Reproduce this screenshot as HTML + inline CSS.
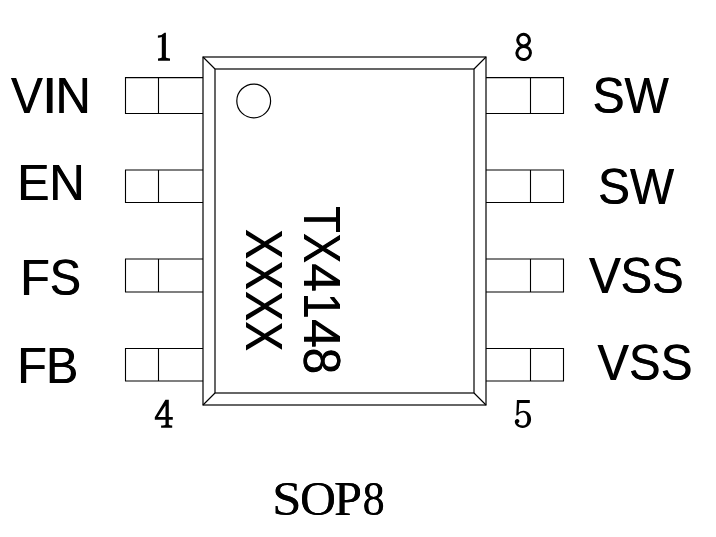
<!DOCTYPE html>
<html><head><meta charset="utf-8"><style>
html,body{margin:0;padding:0;background:#fff;width:716px;height:537px;overflow:hidden}
svg{position:absolute;left:0;top:0;will-change:transform}
</style></head><body>
<svg width="716" height="537" viewBox="0 0 716 537">
<g fill="none" stroke="#000" stroke-width="1.1"><path d="M203 77.6H125.5V113.5H203M158.5 77.6V113.5"/><path d="M203 170H125.5V202.5H203M158.5 170V202.5"/><path d="M203 259H125.5V292H203M158.5 259V292"/><path d="M203 348.5H125.5V381H203M158.5 348.5V381"/><path d="M486 77.6H563.5V113.5H486M530.5 77.6V113.5"/><path d="M486 170H563.5V202.5H486M530.5 170V202.5"/><path d="M486 259H563.5V292H486M530.5 259V292"/><path d="M486 348.5H563.5V381H486M530.5 348.5V381"/></g>
<g fill="none" stroke="#000" stroke-width="1.2">
<rect x="203" y="57" width="283" height="348"/>
<rect x="215" y="69" width="259" height="324"/>
<path d="M203 57L215 69M486 57L474 69M203 405L215 393M486 405L474 393"/>
</g>
<circle cx="253.7" cy="100.95" r="16.9" fill="none" stroke="#000" stroke-width="1.2"/>
<g fill="#000"><path d="M157.9 35.5Q162.2 35.5 164.5 32.8L165.9 32.8L165.9 57.3Q166.2 58.4 170 58.4L170 60.7L158 60.7L158 58.4Q161.5 58.4 161.8 57.3L161.8 37.1Q160.3 37.8 157.9 37.8Z"/>
<path fill-rule="evenodd" d="M165.4 399.8L168.8 399.8L168.8 417L172.8 417L172.8 419.7L168.8 419.7L168.8 424.4Q169 425.3 172.2 425.4L172.2 427.7L161.1 427.7L161.1 425.4Q165.2 425.3 165.5 424.4L165.5 419.7L154.8 419.7L154.8 417.2ZM165.5 405.4L165.5 417L157.9 417Z"/>
<path d="M516.9 400L529.8 400L529.8 402.9L519.3 402.9L518.6 412.6Q520.6 410.7 523.4 410.7C528 410.7 531.1 414.3 531.1 419.2C531.1 424.4 527.4 427.9 522.6 427.9C518.2 427.9 514.8 425.1 514.8 421.6C514.8 420 516 418.9 517.2 418.9C518.5 418.9 519.4 419.9 519.4 421C519.4 422.3 518.4 423 517.6 423.1C518.5 424.8 520.2 425.6 522.4 425.6C525.8 425.6 527.3 423.2 527.3 419.2C527.3 415 525.6 412.6 522.9 412.6C520.7 412.6 519.1 413.6 518.1 415.2L516.3 415.4Z"/>
<g fill="none" stroke="#000" stroke-width="3"><ellipse cx="523.6" cy="40.1" rx="5.85" ry="5.75" transform="rotate(25 523.6 40.1)"/><ellipse cx="523.7" cy="53.0" rx="6.85" ry="6.45" transform="rotate(-20 523.7 53.0)"/></g></g>
<g fill="#000">
<text transform="translate(10.76,113.00) scale(0.9551,1)" font-family="Liberation Sans" font-size="50">V</text><text transform="translate(11.36,113.00) scale(0.9551,1)" font-family="Liberation Sans" font-size="50">V</text><text transform="translate(42.10,113.00) scale(1.0595,1)" font-family="Liberation Sans" font-size="50">I</text><text transform="translate(42.70,113.00) scale(1.0595,1)" font-family="Liberation Sans" font-size="50">I</text><text transform="translate(55.26,113.00) scale(0.9794,1)" font-family="Liberation Sans" font-size="50">N</text><text transform="translate(55.86,113.00) scale(0.9794,1)" font-family="Liberation Sans" font-size="50">N</text>
<text transform="translate(17.11,200.00) scale(0.9618,1)" font-family="Liberation Sans" font-size="50">E</text><text transform="translate(17.71,200.00) scale(0.9618,1)" font-family="Liberation Sans" font-size="50">E</text><text transform="translate(48.89,200.00) scale(0.9848,1)" font-family="Liberation Sans" font-size="50">N</text><text transform="translate(49.49,200.00) scale(0.9848,1)" font-family="Liberation Sans" font-size="50">N</text>
<text transform="translate(20.03,295.00) scale(0.9625,1)" font-family="Liberation Sans" font-size="50">F</text><text transform="translate(20.63,295.00) scale(0.9625,1)" font-family="Liberation Sans" font-size="50">F</text><text transform="translate(49.60,295.00) scale(0.9322,1)" font-family="Liberation Sans" font-size="50">S</text><text transform="translate(50.20,295.00) scale(0.9322,1)" font-family="Liberation Sans" font-size="50">S</text>
<text transform="translate(17.11,383.00) scale(0.9621,1)" font-family="Liberation Sans" font-size="50">F</text><text transform="translate(17.71,383.00) scale(0.9621,1)" font-family="Liberation Sans" font-size="50">F</text><text transform="translate(45.70,383.00) scale(0.9690,1)" font-family="Liberation Sans" font-size="50">B</text><text transform="translate(46.30,383.00) scale(0.9690,1)" font-family="Liberation Sans" font-size="50">B</text>
<text transform="translate(592.34,113.00) scale(0.9583,1)" font-family="Liberation Sans" font-size="50">S</text><text transform="translate(592.94,113.00) scale(0.9583,1)" font-family="Liberation Sans" font-size="50">S</text><text transform="translate(624.17,113.00) scale(0.9390,1)" font-family="Liberation Sans" font-size="50">W</text><text transform="translate(624.77,113.00) scale(0.9390,1)" font-family="Liberation Sans" font-size="50">W</text>
<text transform="translate(597.86,204.00) scale(0.9530,1)" font-family="Liberation Sans" font-size="50">S</text><text transform="translate(598.46,204.00) scale(0.9530,1)" font-family="Liberation Sans" font-size="50">S</text><text transform="translate(629.77,204.00) scale(0.9348,1)" font-family="Liberation Sans" font-size="50">W</text><text transform="translate(630.37,204.00) scale(0.9348,1)" font-family="Liberation Sans" font-size="50">W</text>
<text transform="translate(588.86,293.00) scale(0.9490,1)" font-family="Liberation Sans" font-size="50">V</text><text transform="translate(589.46,293.00) scale(0.9490,1)" font-family="Liberation Sans" font-size="50">V</text><text transform="translate(620.26,293.00) scale(0.9496,1)" font-family="Liberation Sans" font-size="50">S</text><text transform="translate(620.86,293.00) scale(0.9496,1)" font-family="Liberation Sans" font-size="50">S</text><text transform="translate(651.76,293.00) scale(0.9496,1)" font-family="Liberation Sans" font-size="50">S</text><text transform="translate(652.36,293.00) scale(0.9496,1)" font-family="Liberation Sans" font-size="50">S</text>
<text transform="translate(597.37,380.00) scale(0.9369,1)" font-family="Liberation Sans" font-size="50">V</text><text transform="translate(597.97,380.00) scale(0.9369,1)" font-family="Liberation Sans" font-size="50">V</text><text transform="translate(628.77,380.00) scale(0.9461,1)" font-family="Liberation Sans" font-size="50">S</text><text transform="translate(629.37,380.00) scale(0.9461,1)" font-family="Liberation Sans" font-size="50">S</text><text transform="translate(660.57,380.00) scale(0.9461,1)" font-family="Liberation Sans" font-size="50">S</text><text transform="translate(661.17,380.00) scale(0.9461,1)" font-family="Liberation Sans" font-size="50">S</text>
<text transform="translate(272.03,515.00) scale(1.0811,1)" font-family="Liberation Serif" font-size="48.9">S</text><text transform="translate(272.13,515.00) scale(1.0811,1)" font-family="Liberation Serif" font-size="48.9">S</text><text transform="translate(300.01,515.00) scale(1.0193,1)" font-family="Liberation Serif" font-size="48.9">O</text><text transform="translate(300.11,515.00) scale(1.0193,1)" font-family="Liberation Serif" font-size="48.9">O</text><text transform="translate(333.88,515.00) scale(1.0330,1)" font-family="Liberation Serif" font-size="48.9">P</text><text transform="translate(333.98,515.00) scale(1.0330,1)" font-family="Liberation Serif" font-size="48.9">P</text><text transform="translate(362.54,515.00) scale(0.9046,1)" font-family="Liberation Serif" font-size="48.9">8</text><text transform="translate(362.64,515.00) scale(0.9046,1)" font-family="Liberation Serif" font-size="48.9">8</text>
<text transform="translate(304.00,206.02) rotate(90) scale(0.8420,1)" font-family="Liberation Sans" font-size="51.5">T</text><text transform="translate(304.00,206.62) rotate(90) scale(0.8420,1)" font-family="Liberation Sans" font-size="51.5">T</text><text transform="translate(304.00,232.68) rotate(90) scale(0.8828,1)" font-family="Liberation Sans" font-size="51.5">X</text><text transform="translate(304.00,233.28) rotate(90) scale(0.8828,1)" font-family="Liberation Sans" font-size="51.5">X</text><text transform="translate(304.00,263.05) rotate(90) scale(0.9959,1)" font-family="Liberation Sans" font-size="51.5">4</text><text transform="translate(304.00,263.65) rotate(90) scale(0.9959,1)" font-family="Liberation Sans" font-size="51.5">4</text><text transform="translate(304.00,292.50) rotate(90) scale(0.9069,1)" font-family="Liberation Sans" font-size="51.5">1</text><text transform="translate(304.00,293.10) rotate(90) scale(0.9069,1)" font-family="Liberation Sans" font-size="51.5">1</text><text transform="translate(304.00,318.84) rotate(90) scale(0.9997,1)" font-family="Liberation Sans" font-size="51.5">4</text><text transform="translate(304.00,319.44) rotate(90) scale(0.9997,1)" font-family="Liberation Sans" font-size="51.5">4</text><text transform="translate(304.00,347.48) rotate(90) scale(0.9213,1)" font-family="Liberation Sans" font-size="51.5">8</text><text transform="translate(304.00,348.08) rotate(90) scale(0.9213,1)" font-family="Liberation Sans" font-size="51.5">8</text>
<text transform="translate(246.00,228.79) rotate(90) scale(0.8703,1)" font-family="Liberation Sans" font-size="51.5">X</text><text transform="translate(246.00,229.39) rotate(90) scale(0.8703,1)" font-family="Liberation Sans" font-size="51.5">X</text><text transform="translate(246.00,260.11) rotate(90) scale(0.8578,1)" font-family="Liberation Sans" font-size="51.5">X</text><text transform="translate(246.00,260.71) rotate(90) scale(0.8578,1)" font-family="Liberation Sans" font-size="51.5">X</text><text transform="translate(246.00,290.79) rotate(90) scale(0.8703,1)" font-family="Liberation Sans" font-size="51.5">X</text><text transform="translate(246.00,291.39) rotate(90) scale(0.8703,1)" font-family="Liberation Sans" font-size="51.5">X</text><text transform="translate(246.00,321.10) rotate(90) scale(0.8672,1)" font-family="Liberation Sans" font-size="51.5">X</text><text transform="translate(246.00,321.70) rotate(90) scale(0.8672,1)" font-family="Liberation Sans" font-size="51.5">X</text>
</g>
</svg>
</body></html>
